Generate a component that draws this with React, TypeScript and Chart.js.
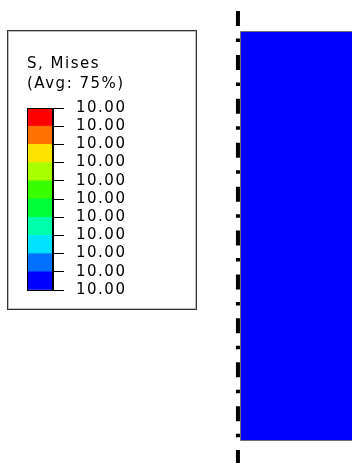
import React, { useEffect, useRef } from "react";
import { Chart, registerables } from "chart.js";

Chart.register(...registerables);

// ---------- data ----------
const LEGEND_TITLE = ["S, Mises", "(Avg: 75%)"];
// contour levels, bottom -> top (11 boundaries for 10 bands)
const CONTOUR_LEVELS = [10.0, 10.0, 10.0, 10.0, 10.0, 10.0, 10.0, 10.0, 10.0, 10.0, 10.0];
// legend band heights (uniform bands), bottom -> top
const BAND_HEIGHTS = [1, 1, 1, 1, 1, 1, 1, 1, 1, 1];
// band colours, bottom -> top
const BAND_COLORS = [
  "#0000FF",
  "#0071FF",
  "#00E3FF",
  "#00FFAA",
  "#00FF39",
  "#39FF00",
  "#AAFF00",
  "#FFE300",
  "#FF7100",
  "#FF0000",
];
// model part (axisymmetric section): radial and axial extents
const PART_R = [0, 20];
const PART_Z = [0, 40];
const PART_STRESS = 10.0;
// symmetry axis (drawn just left of the part)
const AXIS_R = -0.25;
const AXIS_Z = [42, -3];

// ---------- view ----------
const W = 352;
const H = 463;
const FONT = "'DejaVu Sans', Verdana, sans-serif";
const PX_PER_UNIT = 10.225;
const ORIGIN_PX = { x: 240.5, y: 440.5 };

function bandColorFor(v: number): string {
  for (let i = 0; i < BAND_COLORS.length; i++) {
    if (v >= CONTOUR_LEVELS[i] && v < CONTOUR_LEVELS[i + 1]) return BAND_COLORS[i];
  }
  return BAND_COLORS[0];
}

const spacingPlugin = {
  id: "letterSpacing",
  beforeDraw(chart: any) {
    chart.ctx.letterSpacing = "1.5px";
  },
};

const framePlugin = {
  id: "barFrame",
  afterDatasetsDraw(chart: any) {
    const { ctx, chartArea } = chart;
    ctx.save();
    ctx.strokeStyle = "#000";
    ctx.lineWidth = 1;
    ctx.strokeRect(
      chartArea.left + 0.5,
      chartArea.top + 0.5,
      chartArea.right - chartArea.left - 1,
      chartArea.bottom - chartArea.top
    );
    ctx.restore();
  },
};

export default function App() {
  const modelRef = useRef<HTMLCanvasElement>(null);
  const legendRef = useRef<HTMLCanvasElement>(null);

  useEffect(() => {
    const fillColor = bandColorFor(PART_STRESS);
    const model = new Chart(modelRef.current!, {
      type: "line",
      data: {
        datasets: [
          {
            data: [
              { x: PART_R[1], y: PART_Z[0] },
              { x: PART_R[0], y: PART_Z[0] },
              { x: PART_R[0], y: PART_Z[1] },
              { x: PART_R[1], y: PART_Z[1] },
            ],
            borderColor: "#707070",
            borderWidth: 1,
            fill: false,
            pointRadius: 0,
            tension: 0,
          },
          {
            data: [
              { x: PART_R[0], y: PART_Z[1] },
              { x: PART_R[1], y: PART_Z[1] },
            ],
            borderColor: "rgba(0,0,0,0)",
            borderWidth: 0,
            backgroundColor: fillColor,
            fill: { value: PART_Z[0] },
            pointRadius: 0,
          },
          {
            data: [
              { x: AXIS_R, y: AXIS_Z[0] },
              { x: AXIS_R, y: AXIS_Z[1] },
            ],
            borderColor: "#000",
            borderWidth: 4,
            borderDash: [15, 12.5, 3.5, 12.9],
            fill: false,
            pointRadius: 0,
          },
        ],
      } as any,
      options: {
        responsive: false,
        animation: false,
        layout: { padding: 0 },
        plugins: { legend: { display: false }, tooltip: { enabled: false }, title: { display: false } },
        scales: {
          x: {
            type: "linear",
            display: false,
            min: -ORIGIN_PX.x / PX_PER_UNIT,
            max: (W - ORIGIN_PX.x) / PX_PER_UNIT,
          },
          y: {
            type: "linear",
            display: false,
            min: -(H - ORIGIN_PX.y) / PX_PER_UNIT,
            max: ORIGIN_PX.y / PX_PER_UNIT,
          },
        },
      } as any,
    });

    const total = BAND_HEIGHTS.reduce((a, b) => a + b, 0);
    const legend = new Chart(legendRef.current!, {
      type: "bar",
      data: {
        labels: ["S, Mises"],
        datasets: BAND_COLORS.map((c, i) => ({
          data: [BAND_HEIGHTS[i]],
          backgroundColor: c,
          borderWidth: 0,
          barPercentage: 1,
          categoryPercentage: 1,
        })),
      },
      options: {
        responsive: false,
        animation: false,
        layout: { padding: { left: 27, right: 0, top: 0, bottom: 173 } },
        plugins: {
          legend: { display: false },
          tooltip: { enabled: false },
          title: {
            display: true,
            text: LEGEND_TITLE,
            align: "start",
            color: "#000",
            font: { family: FONT, size: 15, lineHeight: "20px", weight: "normal" },
            padding: { top: 54, bottom: 14 },
          },
        },
        scales: {
          x: { display: false, stacked: true },
          y: {
            stacked: true,
            position: "right",
            min: 0,
            max: total,
            afterFit: (s: any) => {
              s.width = W - 53;
            },
            grid: {
              display: true,
              drawOnChartArea: false,
              drawTicks: true,
              tickLength: 11,
              color: "#000",
              lineWidth: 1,
            },
            border: { display: true, color: "#000" },
            ticks: {
              stepSize: 1,
              autoSkip: false,
              padding: 12,
              labelOffset: 0,
              color: "#000",
              font: { family: FONT, size: 15 },
              callback: (_v: any, i: number) => CONTOUR_LEVELS[i].toFixed(2),
            },
          },
        },
      } as any,
      plugins: [spacingPlugin, framePlugin],
    });

    return () => {
      model.destroy();
      legend.destroy();
    };
  }, []);

  return (
    <div style={{ position: "fixed", left: 0, top: 0, width: W, height: H, background: "#fff" }}>
      <div
        style={{
          position: "absolute",
          left: 7,
          top: 30,
          width: 190,
          height: 280,
          boxSizing: "border-box",
          border: "1px solid #333",
          boxShadow: "inset 0 0 0 1px #bbb",
        }}
      />
      <canvas ref={modelRef} width={W} height={H} style={{ position: "absolute", left: 0, top: 0 }} />
      <canvas ref={legendRef} width={W} height={H} style={{ position: "absolute", left: 0, top: 0 }} />
    </div>
  );
}
